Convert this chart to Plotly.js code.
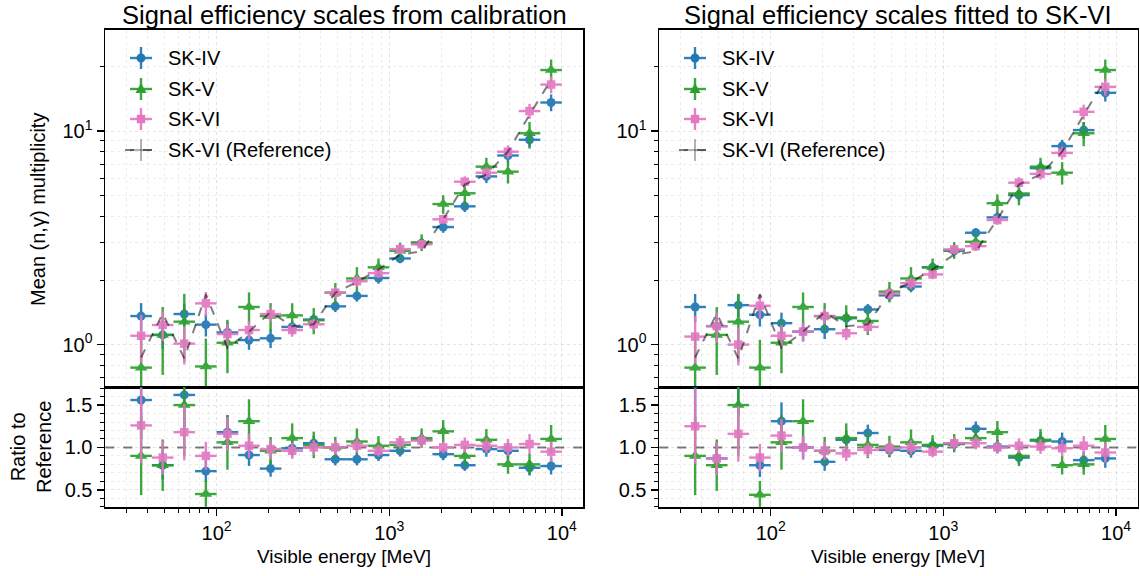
<!DOCTYPE html>
<html><head><meta charset="utf-8">
<script src="https://cdn.plot.ly/plotly-3.0.1.min.js"></script>
<style>html,body{margin:0;padding:0;background:#fff}#plot{width:1140px;height:576px}</style>
</head><body><div id="plot"></div>
<script>
// ---------------- DATA ----------------
const binEdges = [31.62, 42.17, 56.23, 74.99, 100.0, 133.35, 177.83, 237.14, 316.23, 421.70, 562.34, 749.89, 1000.0, 1333.52, 1778.28, 2371.37, 3162.28, 4216.97, 5623.41, 7498.94, 10000.0];
const energy = [36.52, 48.70, 64.94, 86.60, 115.48, 153.99, 205.35, 273.84, 365.17, 486.97, 649.38, 865.96, 1154.78, 1539.93, 2053.53, 2738.42, 3651.74, 4869.68, 6493.82, 8659.64];

// SK-VI reference
const refMean = [0.87, 1.40, 0.86, 1.72, 0.965, 1.15, 1.42, 1.22, 1.245, 1.75, 1.96, 2.25, 2.64, 2.73, 3.86, 5.62, 6.25, 8.0, 11.9, 17.4];
const refRelErr = [0.25, 0.16, 0.2, 0.13, 0.12, 0.1, 0.08, 0.07, 0.06, 0.06, 0.06, 0.05, 0.05, 0.05, 0.05, 0.06, 0.06, 0.07, 0.08, 0.09];

// relative uncertainties
const skivRelErr = [0.15, 0.14, 0.12, 0.12, 0.12, 0.1, 0.1, 0.07, 0.06, 0.06, 0.06, 0.06, 0.05, 0.05, 0.06, 0.06, 0.07, 0.07, 0.09, 0.09];
const skvRelErr = [0.45, 0.35, 0.35, 0.35, 0.28, 0.17, 0.15, 0.14, 0.14, 0.11, 0.13, 0.1, 0.09, 0.09, 0.1, 0.12, 0.1, 0.12, 0.13, 0.12];
const skviRelErr = [0.25, 0.16, 0.2, 0.13, 0.12, 0.1, 0.08, 0.07, 0.06, 0.06, 0.06, 0.05, 0.05, 0.05, 0.05, 0.06, 0.06, 0.07, 0.08, 0.09];

// Left panel: scales from calibration
const calibSKIV = [1.36, 1.11, 1.39, 1.24, 1.14, 1.05, 1.07, 1.21, 1.31, 1.51, 1.69, 2.05, 2.53, 2.98, 3.55, 4.44, 6.13, 7.68, 9.1, 13.6];
const calibSKV = [0.78, 1.11, 1.28, 0.79, 1.02, 1.50, 1.36, 1.37, 1.30, 1.75, 2.04, 2.30, 2.75, 3.01, 4.55, 5.11, 6.81, 6.45, 9.76, 19.3];
const calibSKVI = [1.10, 1.235, 1.01, 1.56, 1.12, 1.17, 1.39, 1.17, 1.245, 1.75, 1.98, 2.16, 2.80, 2.95, 3.86, 5.79, 6.38, 8.0, 12.4, 16.5];
const calibRatioSKIV = [1.56, 0.79, 1.62, 0.72, 1.18, 0.91, 0.75, 0.99, 1.05, 0.86, 0.86, 0.91, 0.96, 1.09, 0.92, 0.79, 0.98, 0.96, 0.76, 0.78];
const calibRatioSKV = [0.90, 0.79, 1.50, 0.45, 1.06, 1.31, 0.96, 1.11, 1.03, 1.0, 1.07, 1.02, 1.03, 1.11, 1.19, 0.90, 1.09, 0.80, 0.80, 1.10];
const calibRatioSKVI = [1.26, 0.88, 1.18, 0.90, 1.16, 1.02, 0.98, 0.96, 1.0, 1.0, 1.02, 0.96, 1.06, 1.08, 1.0, 1.03, 1.02, 1.0, 1.04, 0.95];

// Right panel: scales fitted to SK-VI
const fitSKIV = [1.50, 1.22, 1.53, 1.38, 1.26, 1.15, 1.18, 1.33, 1.46, 1.70, 1.87, 2.30, 2.75, 3.34, 3.94, 5.01, 6.7, 8.5, 10.1, 15.1];
const fitSKV = [0.78, 1.11, 1.28, 0.78, 1.02, 1.50, 1.36, 1.34, 1.29, 1.77, 2.04, 2.30, 2.77, 3.03, 4.59, 5.1, 6.81, 6.38, 9.76, 19.3];
const fitSKVI = [1.09, 1.22, 1.0, 1.52, 1.10, 1.15, 1.36, 1.13, 1.21, 1.73, 1.94, 2.13, 2.79, 2.89, 3.83, 5.73, 6.3, 7.9, 12.3, 16.1];
const fitRatioSKIV = [1.75, 0.87, 1.78, 0.79, 1.31, 1.0, 0.83, 1.09, 1.17, 0.97, 0.96, 1.02, 1.04, 1.22, 1.01, 0.88, 1.08, 1.07, 0.85, 0.87];
const fitRatioSKV = [0.90, 0.79, 1.50, 0.44, 1.06, 1.31, 0.96, 1.11, 1.03, 1.01, 1.06, 1.03, 1.05, 1.11, 1.18, 0.90, 1.09, 0.79, 0.80, 1.10];
const fitRatioSKVI = [1.25, 0.87, 1.16, 0.88, 1.14, 1.0, 0.96, 0.93, 0.97, 0.99, 1.0, 0.95, 1.05, 1.05, 1.0, 1.02, 1.01, 0.99, 1.02, 0.94];

const seriesNames = ['SK-IV', 'SK-V', 'SK-VI', 'SK-VI (Reference)'];
const panelTitles = ['Signal efficiency scales from calibration', 'Signal efficiency scales fitted to SK-VI'];
const xTickVals = [100, 1000, 10000];
const xTickText = ['10<sup>2</sup>', '10<sup>3</sup>', '10<sup>4</sup>'];
const xMinorVals = [30, 40, 50, 60, 70, 80, 90, 200, 300, 400, 500, 600, 700, 800, 900, 2000, 3000, 4000, 5000, 6000, 7000, 8000, 9000];
const yTickVals = [1, 10];
const yTickText = ['10<sup>0</sup>', '10<sup>1</sup>'];
const yMinorVals = [0.7, 0.8, 0.9, 2, 3, 4, 5, 6, 7, 8, 9, 20];
const rTickVals = [0.5, 1.0, 1.5];
const rTickText = ['0.5', '1.0', '1.5'];
const rMinorVals = [0.3, 0.4, 0.6, 0.7, 0.8, 0.9, 1.1, 1.2, 1.3, 1.4, 1.6, 1.7];

// ---------------- STYLE ----------------
const W = 1140, H = 576;
const FONT = 'Liberation Sans, Arial, Helvetica, sans-serif';
const C_IV = '#1f77b4', C_V = '#2ca02c', C_VI = '#e377c2', C_REF = 'rgba(0,0,0,0.5)';
const px = v => v / W, py = v => 1 - v / H;

const errPlus = energy.map((e, i) => binEdges[i + 1] - e);
const errMinus = energy.map((e, i) => e - binEdges[i]);

function series(y, rel, color, symbol, size, xa, ya, name) {
  return {
    x: energy, y: y, xaxis: xa, yaxis: ya, name: name, type: 'scatter', mode: 'markers',
    showlegend: false, opacity: 0.92, cliponaxis: true,
    marker: {color: color, symbol: symbol, size: size, line: {width: 0}},
    error_x: {type: 'data', symmetric: false, array: errPlus, arrayminus: errMinus, color: color, thickness: 2.4, width: 0},
    error_y: {type: 'data', array: y.map((v, i) => v * rel[i]), color: color, thickness: 2.4, width: 0}
  };
}
function ratioSeries(r, rel, color, symbol, size, xa, ya, name) {
  const t = series(r, rel, color, symbol, size, xa, ya, name);
  t.error_y.array = r.map((v, i) => v * Math.sqrt(rel[i] * rel[i] + refRelErr[i] * refRelErr[i]));
  return t;
}
function refLine(xa, ya) {
  return {
    x: energy, y: refMean, xaxis: xa, yaxis: ya, type: 'scatter', mode: 'lines', showlegend: false,
    line: {color: 'rgba(0,0,0,0.5)', dash: 'dash', width: 2}
  };
}

const traces = [
  series(calibSKIV, skivRelErr, C_IV, 'circle', 9, 'x', 'y', seriesNames[0]),
  series(calibSKV, skvRelErr, C_V, 'triangle-up', 11, 'x', 'y', seriesNames[1]),
  series(calibSKVI, skviRelErr, C_VI, 'square', 8.5, 'x', 'y', seriesNames[2]),
  refLine('x', 'y'),
  ratioSeries(calibRatioSKIV, skivRelErr, C_IV, 'circle', 9, 'x2', 'y2', seriesNames[0]),
  ratioSeries(calibRatioSKV, skvRelErr, C_V, 'triangle-up', 11, 'x2', 'y2', seriesNames[1]),
  ratioSeries(calibRatioSKVI, skviRelErr, C_VI, 'square', 8.5, 'x2', 'y2', seriesNames[2]),
  series(fitSKIV, skivRelErr, C_IV, 'circle', 9, 'x3', 'y3', seriesNames[0]),
  series(fitSKV, skvRelErr, C_V, 'triangle-up', 11, 'x3', 'y3', seriesNames[1]),
  series(fitSKVI, skviRelErr, C_VI, 'square', 8.5, 'x3', 'y3', seriesNames[2]),
  refLine('x3', 'y3'),
  ratioSeries(fitRatioSKIV, skivRelErr, C_IV, 'circle', 9, 'x4', 'y4', seriesNames[0]),
  ratioSeries(fitRatioSKV, skvRelErr, C_V, 'triangle-up', 11, 'x4', 'y4', seriesNames[1]),
  ratioSeries(fitRatioSKVI, skviRelErr, C_VI, 'square', 8.5, 'x4', 'y4', seriesNames[2])
];

const xL = [105.3 / W, 583.3 / W], xR = [659.3 / W, 1137.5 / W];
const yMain = [py(387.3), py(30)], yRat = [py(506.7), py(387.3)];
const GRID = 'rgba(0,0,0,0.11)', GRIDMIN = 'rgba(0,0,0,0.07)';
const tickFont = {family: FONT, size: 20, color: '#000'};

function xAxis(domain, anchor, labels) {
  return {
    type: 'log', range: [1.355, 4.124], domain: domain, anchor: anchor,
    showline: true, mirror: true, linecolor: '#000', linewidth: 1.8,
    tickmode: 'array', tickvals: xTickVals, ticktext: xTickText,
    ticks: labels ? 'outside' : '', ticklen: 7, tickwidth: 1.5, tickcolor: '#000',
    showticklabels: labels, tickfont: tickFont,
    showgrid: true, gridcolor: GRID, griddash: 'dot', gridwidth: 1, zeroline: false,
    minor: {tickmode: 'array', tickvals: xMinorVals, ticks: labels ? 'outside' : '', ticklen: 4, tickwidth: 1, tickcolor: '#000',
            showgrid: true, gridcolor: GRIDMIN, griddash: 'dot', gridwidth: 1}
  };
}
function yMainAxis(domain, anchor) {
  return {
    type: 'log', range: [-0.2, 1.473], domain: domain, anchor: anchor,
    showline: true, mirror: true, linecolor: '#000', linewidth: 1.8,
    tickmode: 'array', tickvals: yTickVals, ticktext: yTickText,
    ticks: 'outside', ticklen: 7, tickwidth: 1.5, tickcolor: '#000', tickfont: tickFont,
    showgrid: true, gridcolor: GRID, griddash: 'dot', gridwidth: 1, zeroline: false,
    minor: {tickmode: 'array', tickvals: yMinorVals, ticks: 'outside', ticklen: 4, tickwidth: 1, tickcolor: '#000',
            showgrid: true, gridcolor: GRIDMIN, griddash: 'dot', gridwidth: 1}
  };
}
function yRatAxis(domain, anchor) {
  return {
    type: 'linear', range: [0.3, 1.71], domain: domain, anchor: anchor,
    showline: true, mirror: true, linecolor: '#000', linewidth: 1.8,
    tickmode: 'array', tickvals: rTickVals, ticktext: rTickText,
    ticks: 'outside', ticklen: 7, tickwidth: 1.5, tickcolor: '#000', tickfont: tickFont,
    showgrid: true, gridcolor: GRID, griddash: 'dot', gridwidth: 1, zeroline: false,
    minor: {tickmode: 'array', tickvals: rMinorVals, ticks: 'outside', ticklen: 4, tickwidth: 1, tickcolor: '#000',
            showgrid: true, gridcolor: GRIDMIN, griddash: 'dot', gridwidth: 1}
  };
}

// custom legend (error-bar style icons)
const shapes = [];
const annotations = [];
const legendRows = [58, 89, 119, 150];
[0, 554].forEach(off => {
  const cx = 141 + off, tx = 166 + off;
  const cols = [C_IV, C_V, C_VI];
  cols.forEach((c, k) => {
    const cy = legendRows[k];
    shapes.push({type: 'line', xref: 'paper', yref: 'paper', x0: px(cx - 11), x1: px(cx + 11), y0: py(cy), y1: py(cy), line: {color: c, width: 2.4}, opacity: 0.92});
    shapes.push({type: 'line', xref: 'paper', yref: 'paper', x0: px(cx), x1: px(cx), y0: py(cy - 11), y1: py(cy + 11), line: {color: c, width: 2.4}, opacity: 0.92});
    if (k === 0) shapes.push({type: 'circle', xref: 'paper', yref: 'paper', x0: px(cx - 4.5), x1: px(cx + 4.5), y0: py(cy + 4.5), y1: py(cy - 4.5), fillcolor: c, line: {width: 0}});
    if (k === 1) shapes.push({type: 'path', xref: 'paper', yref: 'paper', path: `M ${px(cx - 5.5)},${py(cy + 4)} L ${px(cx + 5.5)},${py(cy + 4)} L ${px(cx)},${py(cy - 6)} Z`, fillcolor: c, line: {width: 0}});
    if (k === 2) shapes.push({type: 'rect', xref: 'paper', yref: 'paper', x0: px(cx - 4.2), x1: px(cx + 4.2), y0: py(cy + 4.2), y1: py(cy - 4.2), fillcolor: c, line: {width: 0}});
  });
  const cy = legendRows[3];
  shapes.push({type: 'line', xref: 'paper', yref: 'paper', x0: px(cx - 16), x1: px(cx + 16), y0: py(cy), y1: py(cy), line: {color: 'rgba(0,0,0,0.5)', width: 2, dash: 'dash'}});
  shapes.push({type: 'line', xref: 'paper', yref: 'paper', x0: px(cx - 11), x1: px(cx + 11), y0: py(cy), y1: py(cy), line: {color: C_REF, width: 1.2}});
  shapes.push({type: 'line', xref: 'paper', yref: 'paper', x0: px(cx), x1: px(cx), y0: py(cy - 11), y1: py(cy + 11), line: {color: C_REF, width: 1.2}});
  seriesNames.forEach((n, k) => {
    annotations.push({xref: 'paper', yref: 'paper', x: px(tx), y: py(legendRows[k]), xanchor: 'left', yanchor: 'middle', text: n, showarrow: false, font: {family: FONT, size: 20, color: '#000'}});
  });
});

// reference line at ratio 1
['x2', 'x4'].forEach((xa, k) => {
  shapes.push({type: 'line', xref: xa + ' domain', yref: k === 0 ? 'y2' : 'y4', x0: 0, x1: 1, y0: 1, y1: 1, line: {color: 'rgba(0,0,0,0.5)', width: 2, dash: 'dash'}, layer: 'below'});
});

// titles and axis labels
const centers = [344.3, 898.4];
centers.forEach((c, k) => {
  annotations.push({xref: 'paper', yref: 'paper', x: px(c), y: py(15), xanchor: 'center', yanchor: 'middle', text: panelTitles[k], showarrow: false, font: {family: FONT, size: 25.5, color: '#000'}});
  annotations.push({xref: 'paper', yref: 'paper', x: px(c), y: py(556), xanchor: 'center', yanchor: 'middle', text: 'Visible energy [MeV]', showarrow: false, font: {family: FONT, size: 19, color: '#000'}});
});
annotations.push({xref: 'paper', yref: 'paper', x: px(38), y: py(210), xanchor: 'center', yanchor: 'middle', textangle: -90, text: 'Mean (n,γ) multiplicity', showarrow: false, font: {family: FONT, size: 20, color: '#000'}});
annotations.push({xref: 'paper', yref: 'paper', x: px(31), y: py(447), xanchor: 'center', yanchor: 'middle', textangle: -90, text: 'Ratio to<br>Reference', showarrow: false, font: {family: FONT, size: 20, color: '#000'}});

const layout = {
  width: W, height: H, margin: {l: 0, r: 0, t: 0, b: 0}, paper_bgcolor: '#fff', plot_bgcolor: '#fff',
  showlegend: false, font: {family: FONT, size: 20, color: '#000'},
  xaxis: xAxis(xL, 'y', false), yaxis: yMainAxis(yMain, 'x'),
  xaxis2: xAxis(xL, 'y2', true), yaxis2: yRatAxis(yRat, 'x2'),
  xaxis3: xAxis(xR, 'y3', false), yaxis3: yMainAxis(yMain, 'x3'),
  xaxis4: xAxis(xR, 'y4', true), yaxis4: yRatAxis(yRat, 'x4'),
  shapes: shapes, annotations: annotations
};
Plotly.newPlot('plot', traces, layout, {displayModeBar: false, staticPlot: true});
</script></body></html>
